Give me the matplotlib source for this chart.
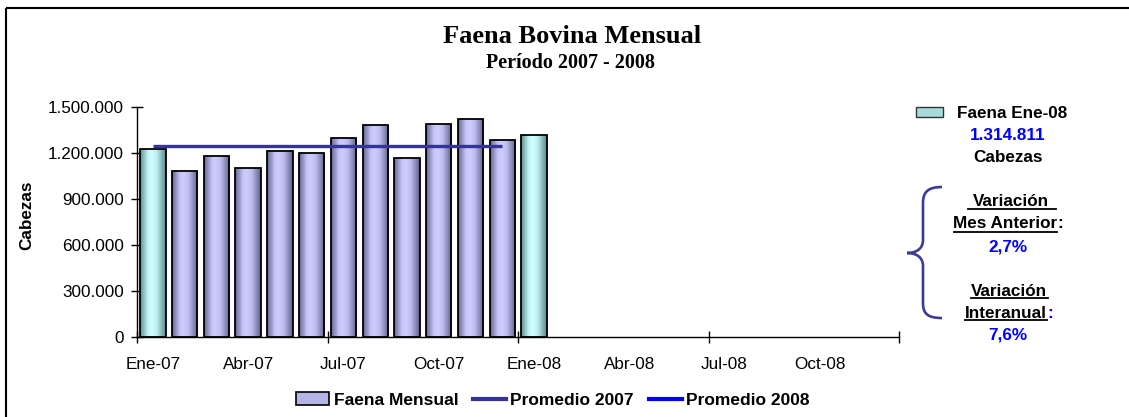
import matplotlib
matplotlib.use("Agg")
import matplotlib.pyplot as plt
import numpy as np
from matplotlib.colors import LinearSegmentedColormap
from matplotlib.patches import Rectangle, PathPatch
from matplotlib.path import Path
from matplotlib.lines import Line2D
from matplotlib.transforms import Affine2D

# ---------------- data ----------------
months = ["Ene-07", "Feb-07", "Mar-07", "Abr-07", "May-07", "Jun-07", "Jul-07", "Ago-07",
          "Sep-07", "Oct-07", "Nov-07", "Dic-07", "Ene-08", "Feb-08", "Mar-08", "Abr-08",
          "May-08", "Jun-08", "Jul-08", "Ago-08", "Sep-08", "Oct-08", "Nov-08", "Dic-08"]
faena_mensual = [1221943, 1084300, 1178000, 1101800, 1210900, 1200000, 1298200, 1381100,
                 1167300, 1389800, 1422600, 1280244, 1314811]
highlight = ["Ene-07", "Ene-08"]
promedio_2007 = [1244682] * 12
promedio_2008 = [1314811]
tick_labels = ["Ene-07", "Abr-07", "Jul-07", "Oct-07", "Ene-08", "Abr-08", "Jul-08", "Oct-08"]
yticks = [0, 300000, 600000, 900000, 1200000, 1500000]
ytick_labels = ["0", "300.000", "600.000", "900.000", "1.200.000", "1.500.000"]

W, H = 1129, 417
SANS = "Liberation Sans"
SERIF = "Liberation Serif"
plt.rcParams["font.family"] = SANS

fig = plt.figure(figsize=(W / 100, H / 100), dpi=100)
fig.patch.set_facecolor("white")

# pixel -> figure-fraction helper transform
pix = Affine2D().scale(1 / W, -1 / H).translate(0, 1) + fig.transFigure

ax_left, ax_right, ax_top, ax_bottom = 137, 899.3, 106.7, 337.3
ax = fig.add_axes([ax_left / W, 1 - ax_bottom / H, (ax_right - ax_left) / W, (ax_bottom - ax_top) / H])
ax.set_facecolor("white")

lav = LinearSegmentedColormap.from_list("lav", [(0, "#666694"), (0.3, "#C4C4F5"), (0.45, "#CCCCFF"),
                                                 (0.65, "#BDBDEE"), (1, "#60608A")])
cya = LinearSegmentedColormap.from_list("cya", [(0, "#5F9090"), (0.3, "#C4F5F5"), (0.45, "#CCFFFF"),
                                                 (0.65, "#BDEEEE"), (1, "#5A8A8A")])
grad = np.linspace(0, 1, 64).reshape(1, -1)

xpos = np.arange(len(months))
bars = ax.bar(xpos[:len(faena_mensual)], faena_mensual, width=0.8, color="none",
              edgecolor="black", linewidth=1.3, zorder=3)
for i, b in enumerate(bars):
    cmap = cya if months[i] in highlight else lav
    im = ax.imshow(grad, cmap=cmap, aspect="auto", zorder=2,
                   extent=[b.get_x(), b.get_x() + b.get_width(), 0, b.get_height()])
    im.set_clip_path(b)

ax.plot(xpos[:len(promedio_2007)], promedio_2007, color="#333399", lw=2.4, zorder=4,
        solid_capstyle="butt")
ax.plot(xpos[12:12 + len(promedio_2008)], promedio_2008, color="#0000FF", lw=2.4, zorder=4)

ax.set_xlim(-0.5, len(months) - 0.5)
ax.set_ylim(0, 1500000)

# spines
for s in ["top", "right"]:
    ax.spines[s].set_visible(False)
for s in ["left", "bottom"]:
    ax.spines[s].set_color("black")
    ax.spines[s].set_linewidth(1.0)

ax.set_yticks(yticks)
ax.set_yticklabels(ytick_labels, fontsize=12.3)
ax.tick_params(axis="y", direction="inout", length=8, width=1, pad=5.5)

ax.set_xticks(np.arange(-0.5, len(months), 6))
ax.set_xticklabels([])
ax.set_xticks([months.index(t) for t in tick_labels], minor=True)
ax.set_xticklabels(tick_labels, minor=True, fontsize=12.3)
ax.tick_params(axis="x", which="major", direction="inout", length=8, width=1)
ax.tick_params(axis="x", which="minor", length=0, pad=14)

ax.set_ylabel("Cabezas", fontsize=12.3, fontweight="bold")
ax.yaxis.set_label_coords((34 - ax_left) / (ax_right - ax_left), (ax_bottom - 215) / (ax_bottom - ax_top))

# titles
fig.text(572 / W, 1 - 43 / H, "Faena Bovina Mensual", family=SERIF, fontweight="bold",
         fontsize=19, ha="center", va="baseline")
fig.text(570 / W, 1 - 68 / H, "Período 2007 - 2008", family=SERIF, fontweight="bold",
         fontsize=14.5, ha="center", va="baseline")

# legend
handles = [Rectangle((0, 0), 1, 1, facecolor="#B4B4E6", edgecolor="black", lw=1.2),
           Line2D([], [], color="#333399", lw=3),
           Line2D([], [], color="#0000FF", lw=3)]
fig.legend(handles, ["Faena Mensual", "Promedio 2007", "Promedio 2008"], loc="center",
           bbox_to_anchor=(553 / W, 1 - 400 / H), ncol=3, frameon=False,
           prop={"family": SANS, "weight": "bold", "size": 12.5},
           handlelength=1.9, handletextpad=0.25, columnspacing=0.85, handleheight=0.7)

# right side panel
fig.patches.append(Rectangle((916, 107), 27, 10, transform=pix, facecolor="#A8DCDC",
                             edgecolor="#333333", lw=1))
fig.text(957 / W, 1 - 113 / H, "Faena Ene-08", fontsize=12.3, fontweight="bold", ha="left", va="center")
fig.text(1008 / W, 1 - 135 / H, "1.314.811", fontsize=12.3, fontweight="bold", color="#0000FF",
         ha="center", va="center")
fig.text(1008 / W, 1 - 157 / H, "Cabezas", fontsize=12.3, fontweight="bold", ha="center", va="center")

fig.text(1011 / W, 1 - 202 / H, "Variación", fontsize=12.3, fontweight="bold", ha="center", va="center")
fig.text(1057 / W, 1 - 224 / H, "Mes Anterior", fontsize=12.3, fontweight="bold", ha="right", va="center")
fig.text(1057 / W, 1 - 224 / H, ":", fontsize=12.3, fontweight="bold", ha="left", va="center")
fig.text(1008 / W, 1 - 247 / H, "2,7%", fontsize=12.3, fontweight="bold", color="#0000FF",
         ha="center", va="center")
fig.text(1009 / W, 1 - 291 / H, "Variación", fontsize=12.3, fontweight="bold", ha="center", va="center")
fig.text(1047 / W, 1 - 313 / H, "Interanual", fontsize=12.3, fontweight="bold", ha="right", va="center")
fig.text(1047 / W, 1 - 313 / H, ":", fontsize=12.3, fontweight="bold", color="#0000FF", ha="left", va="center")
fig.text(1008 / W, 1 - 335 / H, "7,6%", fontsize=12.3, fontweight="bold", color="#0000FF",
         ha="center", va="center")

for (x0, x1, y) in [(968, 1056, 209.5), (954, 1057, 232), (971, 1048, 298.5), (965, 1047, 320.5)]:
    fig.lines.append(Line2D([x0, x1], [y, y], transform=pix, color="black", lw=1.3))

# brace
verts = [(942, 187), (928, 187), (923, 192), (923, 203),
         (923, 240),
         (923, 249), (916, 253), (907, 253),
         (916, 253), (923, 257), (923, 266),
         (923, 303),
         (923, 314), (928, 318), (942, 318)]
codes = [Path.MOVETO, Path.CURVE4, Path.CURVE4, Path.CURVE4,
         Path.LINETO,
         Path.CURVE4, Path.CURVE4, Path.CURVE4,
         Path.CURVE4, Path.CURVE4, Path.CURVE4,
         Path.LINETO,
         Path.CURVE4, Path.CURVE4, Path.CURVE4]
fig.patches.append(PathPatch(Path(verts, codes), transform=pix, facecolor="none",
                             edgecolor="#3B3B96", lw=1.9))

# outer border
fig.patches.append(Rectangle((5.5, 7.5), W, H, transform=pix, facecolor="none",
                             edgecolor="black", lw=1.5))

fig.savefig("out.png", dpi=100)
